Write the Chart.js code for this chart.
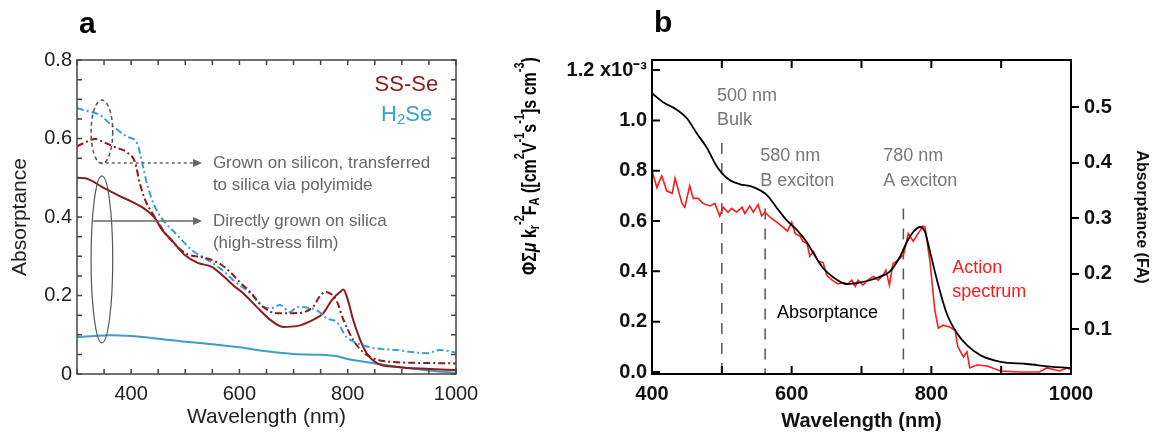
<!DOCTYPE html>
<html>
<head>
<meta charset="utf-8">
<title>Absorptance of films and action spectrum</title>
<script src="https://cdn.jsdelivr.net/npm/chart.js"></script>
<style>
  body { margin: 0; background: #fff; }
  #wrap { position: relative; width: 1156px; height: 436px; }
  #chartA { position: absolute; left: 0; top: 0; }
  #chartB { position: absolute; left: 490px; top: 0; }
</style>
</head>
<body>
<div id="wrap">
  <canvas id="chartA" width="490" height="436"></canvas>
  <canvas id="chartB" width="666" height="436"></canvas>
</div>
<script>
// ---------- panel a: absorptance ----------
// SS-Se, grown on silicon and transferred (dash-dot, dark red)
const ssTransWl = [300, 315, 333, 350, 370, 394, 407, 416, 426, 439, 450, 468, 500, 536, 561, 579, 600, 620, 644, 669, 699, 736, 747, 758, 770, 780, 791, 810, 828, 847, 878, 952, 1000];
const ssTrans   = [0.58, 0.59, 0.599, 0.59, 0.578, 0.563, 0.54, 0.486, 0.443, 0.41, 0.385, 0.35, 0.308, 0.296, 0.283, 0.265, 0.235, 0.209, 0.171, 0.155, 0.155, 0.171, 0.195, 0.209, 0.203, 0.185, 0.142, 0.087, 0.056, 0.04, 0.031, 0.028, 0.027];
// H2Se, grown on silicon and transferred (dash-dot, blue)
const h2TransWl = [300, 320, 342, 367, 394, 411, 420, 429, 444, 463, 481, 512, 542, 568, 592, 620, 644, 660, 675, 693, 708, 730, 743, 761, 780, 798, 817, 841, 890, 946, 970, 1000];
const h2Trans   = [0.677, 0.67, 0.66, 0.63, 0.604, 0.588, 0.54, 0.486, 0.426, 0.385, 0.36, 0.316, 0.29, 0.265, 0.235, 0.206, 0.171, 0.168, 0.176, 0.158, 0.171, 0.168, 0.163, 0.142, 0.132, 0.094, 0.079, 0.068, 0.061, 0.053, 0.061, 0.055];
// SS-Se, directly grown on silica (solid, dark red)
const ssDirWl = [300, 315, 346, 376, 400, 420, 444, 457, 475, 499, 523, 549, 568, 592, 607, 632, 657, 681, 706, 736, 755, 771, 786, 792, 800, 810, 823, 835, 854, 891, 952, 1000];
const ssDir   = [0.50, 0.499, 0.477, 0.455, 0.44, 0.425, 0.397, 0.367, 0.341, 0.303, 0.283, 0.273, 0.252, 0.222, 0.206, 0.171, 0.138, 0.12, 0.122, 0.138, 0.155, 0.189, 0.209, 0.215, 0.19, 0.138, 0.087, 0.053, 0.028, 0.018, 0.013, 0.01];
// H2Se, directly grown on silica (solid, blue)
const h2DirWl = [300, 330, 360, 400, 450, 500, 550, 600, 650, 700, 750, 780, 800, 850, 900, 950, 1000];
const h2Dir   = [0.094, 0.097, 0.099, 0.097, 0.09, 0.082, 0.076, 0.068, 0.058, 0.051, 0.049, 0.045, 0.038, 0.027, 0.017, 0.009, 0.003];

const aXTicks = [300, 350, 400, 450, 500, 550, 600, 650, 700, 750, 800, 850, 900, 950, 1000];
const aXLabeled = [400, 600, 800, 1000];
const aYTicks = [0, 0.05, 0.1, 0.15, 0.2, 0.25, 0.3, 0.35, 0.4, 0.45, 0.5, 0.55, 0.6, 0.65, 0.7, 0.75, 0.8];
const aYLabelVals = [0, 0.2, 0.4, 0.6, 0.8];
const aYLabelText = ['0', '0.2', '0.4', '0.6', '0.8'];

// ---------- panel b: action spectrum vs absorptance ----------
// action spectrum, left axis (x10^-3)
const actWl = [400, 407, 414, 421, 429, 433, 443, 447, 454, 459, 466, 473, 483, 490, 497, 502, 509, 514, 521, 529, 533, 540, 545, 552, 557, 562, 569, 579, 588, 594, 600, 605, 612, 616, 622, 626, 631, 638, 645, 650, 658, 666, 674, 681, 686, 691, 695, 702, 709, 717, 724, 731, 735, 740, 745, 752, 760, 767, 774, 781, 788, 791, 798, 805, 810, 817, 827, 834, 838, 846, 851, 855, 865, 880, 899, 927, 955, 965, 984, 994, 1000];
const act   = [0.80, 0.733, 0.78, 0.72, 0.71, 0.77, 0.67, 0.655, 0.74, 0.69, 0.69, 0.67, 0.66, 0.67, 0.62, 0.655, 0.635, 0.65, 0.635, 0.655, 0.63, 0.66, 0.635, 0.665, 0.62, 0.635, 0.615, 0.595, 0.575, 0.56, 0.595, 0.55, 0.54, 0.52, 0.51, 0.46, 0.48, 0.44, 0.435, 0.385, 0.365, 0.35, 0.355, 0.35, 0.365, 0.34, 0.365, 0.345, 0.365, 0.38, 0.365, 0.385, 0.405, 0.345, 0.43, 0.445, 0.465, 0.55, 0.52, 0.55, 0.58, 0.575, 0.44, 0.245, 0.174, 0.186, 0.178, 0.166, 0.1, 0.06, 0.08, 0.016, 0.028, 0.024, 0.004, 0, 0, 0.016, 0.004, 0.016, 0.01];
// absorptance FA, right axis
const absWl = [400, 416, 436, 450, 464, 479, 490, 500, 512, 526, 540, 555, 565, 579, 593, 608, 622, 631, 645, 659, 679, 693, 712, 726, 740, 755, 765, 774, 784, 791, 798, 810, 822, 837, 851, 870, 899, 937, 974, 1000];
const absFA = [0.525, 0.509, 0.495, 0.48, 0.453, 0.426, 0.399, 0.381, 0.368, 0.361, 0.358, 0.35, 0.341, 0.318, 0.296, 0.278, 0.256, 0.237, 0.21, 0.194, 0.181, 0.183, 0.188, 0.194, 0.203, 0.23, 0.257, 0.275, 0.284, 0.275, 0.24, 0.179, 0.128, 0.092, 0.071, 0.053, 0.041, 0.037, 0.032, 0.03];

const bXTicks = [400, 500, 600, 700, 800, 900, 1000];
const bXLabeled = [400, 600, 800, 1000];
const bYLTicks = [0, 0.2, 0.4, 0.6, 0.8, 1.0, 1.2];
const bYLText = ['0.0', '0.2', '0.4', '0.6', '0.8', '1.0', '1.2 x10\u207B\u00B3'];
const bYRTicks = [0.1, 0.2, 0.3, 0.4, 0.5];
const bYRText = ['0.1', '0.2', '0.3', '0.4', '0.5'];
// exciton / bulk markers (wavelength, top of dashed line on left axis)
const markerWl = [500, 562, 760];
const markerTop = [0.91, 0.65, 0.65];

const FONT = '"Liberation Sans", Arial, Helvetica, sans-serif';
Chart.defaults.font.family = FONT;
Chart.defaults.color = '#222';

const RED_A = '#8e1b1b';
const BLUE_A = '#3c9fcb';

const toXY = (xs, ys) => xs.map((x, i) => ({ x, y: ys[i] }));
const pick = (vals, text) => v => {
  const i = vals.findIndex(l => Math.abs(l - v) < 1e-9);
  return i >= 0 ? text[i] : '';
};

// frame around the plot area with tick marks on the chosen sides
const boxTicks = {
  id: 'boxTicks',
  afterDatasetsDraw(chart, args, o) {
    const { ctx, chartArea: { left, right, top, bottom } } = chart;
    const xs = chart.scales.x;
    ctx.save();
    ctx.strokeStyle = o.color;
    ctx.lineWidth = o.width;
    ctx.beginPath();
    xs.ticks.forEach(t => {
      const p = xs.getPixelForValue(t.value);
      ctx.moveTo(p, bottom); ctx.lineTo(p, bottom - o.len);
      ctx.moveTo(p, top); ctx.lineTo(p, top + o.len);
    });
    const yl = chart.scales[o.left];
    yl.ticks.forEach(t => {
      const p = yl.getPixelForValue(t.value);
      ctx.moveTo(left, p); ctx.lineTo(left + o.len, p);
      if (o.mirrorRight) { ctx.moveTo(right, p); ctx.lineTo(right - o.len, p); }
    });
    ctx.stroke();
    ctx.strokeRect(left, top, right - left, bottom - top);
    ctx.restore();
  }
};

function drawRich(ctx, parts, x, y) {
  parts.forEach(p => {
    ctx.font = p[1];
    ctx.fillText(p[0], x, y + (p[2] || 0));
    x += ctx.measureText(p[0]).width;
  });
}
function richWidth(ctx, parts) {
  let w = 0;
  parts.forEach(p => { ctx.font = p[1]; w += ctx.measureText(p[0]).width; });
  return w;
}
function arrow(ctx, x0, x1, y, dash) {
  ctx.setLineDash(dash);
  ctx.beginPath(); ctx.moveTo(x0, y); ctx.lineTo(x1 - 7, y); ctx.stroke();
  ctx.setLineDash([]);
  ctx.beginPath(); ctx.moveTo(x1, y); ctx.lineTo(x1 - 9, y - 4); ctx.lineTo(x1 - 9, y + 4); ctx.closePath(); ctx.fill();
}

// panel a: letter, legend text, ellipses and arrows
const notesA = {
  id: 'notesA',
  afterDatasetsDraw(chart) {
    const { ctx } = chart;
    const X = v => chart.scales.x.getPixelForValue(v);
    const Y = v => chart.scales.y.getPixelForValue(v);
    ctx.save();
    ctx.strokeStyle = '#555';
    ctx.fillStyle = '#666';
    ctx.lineWidth = 1.5;
    ctx.setLineDash([4, 3]);
    ctx.beginPath();
    ctx.ellipse(X(346), Y(0.617), X(366) - X(346), Y(0.617) - Y(0.698), 0, 0, 2 * Math.PI);
    ctx.stroke();
    ctx.setLineDash([]);
    ctx.lineWidth = 1.2;
    ctx.beginPath();
    ctx.ellipse(X(346), Y(0.292), X(366) - X(346), Y(0.292) - Y(0.505), 0, 0, 2 * Math.PI);
    ctx.stroke();

    ctx.strokeStyle = '#666';
    ctx.lineWidth = 1.5;
    arrow(ctx, X(342), X(531), Y(0.5376), [3, 3]);
    arrow(ctx, X(330), X(531), Y(0.39), []);

    ctx.textBaseline = 'middle';
    ctx.textAlign = 'left';
    ctx.font = '17px ' + FONT;
    ctx.fillStyle = '#666';
    ctx.fillText('Grown on silicon, transferred', X(551), Y(0.5376));
    ctx.fillText('to silica via polyimide', X(551), Y(0.4815));
    ctx.fillText('Directly grown on silica', X(551), Y(0.39));
    ctx.fillText('(high-stress film)', X(551), Y(0.334));

    ctx.font = '22px ' + FONT;
    ctx.textAlign = 'right';
    ctx.fillStyle = RED_A;
    ctx.fillText('SS-Se', X(967), Y(0.736));
    ctx.textAlign = 'left';
    ctx.fillStyle = BLUE_A;
    const h2 = [['H', '22px ' + FONT], ['2', '15px ' + FONT, 5], ['Se', '22px ' + FONT]];
    drawRich(ctx, h2, X(956) - richWidth(ctx, h2), Y(0.659));

    ctx.fillStyle = '#000';
    ctx.font = 'bold 30px ' + FONT;
    ctx.textBaseline = 'alphabetic';
    ctx.fillText('a', 79, 33);
    ctx.restore();
  }
};

// panel b: markers, labels, left axis title with sub/superscripts
const notesB = {
  id: 'notesB',
  beforeDatasetsDraw(chart) {
    const { ctx, chartArea } = chart;
    const X = v => chart.scales.x.getPixelForValue(v);
    const Y = v => chart.scales.yL.getPixelForValue(v);
    ctx.save();
    ctx.strokeStyle = '#555';
    ctx.lineWidth = 1.5;
    ctx.setLineDash([11, 9]);
    markerWl.forEach((w, i) => {
      ctx.beginPath();
      ctx.moveTo(X(w), Y(markerTop[i]));
      ctx.lineTo(X(w), chartArea.bottom);
      ctx.stroke();
    });
    ctx.restore();
  },
  afterDatasetsDraw(chart) {
    const { ctx } = chart;
    const X = v => chart.scales.x.getPixelForValue(v);
    const Y = v => chart.scales.yL.getPixelForValue(v);
    ctx.save();
    ctx.textBaseline = 'middle';
    ctx.textAlign = 'left';
    ctx.font = '18px ' + FONT;
    ctx.fillStyle = '#777';
    ctx.fillText('500 nm', X(493), Y(1.097));
    ctx.fillText('Bulk', X(493), Y(1.002));
    ctx.fillText('580 nm', X(555), Y(0.859));
    ctx.fillText('B exciton', X(555), Y(0.760));
    ctx.fillText('780 nm', X(731), Y(0.859));
    ctx.fillText('A exciton', X(731), Y(0.760));
    ctx.fillStyle = '#000';
    ctx.fillText('Absorptance', X(579), Y(0.234));
    ctx.fillStyle = '#ff1a1a';
    ctx.fillText('Action', X(830), Y(0.412));
    ctx.fillText('spectrum', X(830), Y(0.317));

    ctx.fillStyle = '#000';
    ctx.font = 'bold 30px ' + FONT;
    ctx.textBaseline = 'alphabetic';
    ctx.fillText('b', 164, 32);

    // left axis title
    const M = 'bold 16px ' + FONT, S = 'bold 11px ' + FONT;
    const parts = [['\u03A6\u03A3', M], ['\u03BC', 'italic ' + M], [' k', M], ['r', S, 2], ['-2', S, -9],
      ['F', M], ['A', S, 2], [' ([cm', M], ['2', S, -9], ['V', M], ['-1', S, -9], ['s', M], ['-1', S, -9],
      [']s cm', M], ['-3', S, -9], [')', M]];
    const w = richWidth(ctx, parts);
    ctx.translate(46, 166);
    ctx.scale(1.3, 1);
    ctx.rotate(-Math.PI / 2);
    drawRich(ctx, parts, -w / 2, 0);
    ctx.restore();
  }
};

new Chart(document.getElementById('chartA'), {
  type: 'line',
  data: {
    datasets: [
      { label: 'SS-Se (transferred)', data: toXY(ssTransWl, ssTrans), borderColor: RED_A, borderWidth: 2, borderDash: [7, 3, 2, 3] },
      { label: 'H2Se (transferred)', data: toXY(h2TransWl, h2Trans), borderColor: BLUE_A, borderWidth: 2, borderDash: [7, 3, 2, 3] },
      { label: 'SS-Se (direct)', data: toXY(ssDirWl, ssDir), borderColor: RED_A, borderWidth: 2 },
      { label: 'H2Se (direct)', data: toXY(h2DirWl, h2Dir), borderColor: BLUE_A, borderWidth: 2 }
    ]
  },
  options: {
    responsive: false,
    animation: false,
    layout: { padding: { top: 60, right: 34, left: 0, bottom: 0 } },
    elements: { point: { radius: 0 }, line: { cubicInterpolationMode: 'monotone' } },
    plugins: {
      legend: { display: false },
      tooltip: { enabled: false },
      boxTicks: { color: '#444', width: 1.5, len: 5, left: 'y', mirrorRight: true }
    },
    scales: {
      x: {
        type: 'linear', min: 300, max: 1000,
        afterFit: s => { s.height = 62; },
        afterBuildTicks: s => { s.ticks = aXTicks.map(v => ({ value: v })); },
        grid: { display: false, drawTicks: false },
        border: { display: false },
        ticks: { autoSkip: false, maxRotation: 0, padding: 8, color: '#222', font: { size: 20 },
          callback: v => aXLabeled.includes(v) ? String(v) : '' },
        title: { display: true, text: 'Wavelength (nm)', color: '#222', font: { size: 21 }, padding: { top: 0, bottom: 6 } }
      },
      y: {
        min: 0, max: 0.8,
        afterFit: s => { s.width = 77; },
        afterBuildTicks: s => { s.ticks = aYTicks.map(v => ({ value: v })); },
        grid: { display: false, drawTicks: false },
        border: { display: false },
        ticks: { autoSkip: false, padding: 5, color: '#222', font: { size: 20 }, callback: pick(aYLabelVals, aYLabelText) },
        title: { display: true, text: 'Absorptance', color: '#222', font: { size: 21 }, padding: { top: 8, bottom: 0 } }
      }
    }
  },
  plugins: [boxTicks, notesA]
});

new Chart(document.getElementById('chartB'), {
  type: 'line',
  data: {
    datasets: [
      { label: 'Absorptance', data: toXY(absWl, absFA), yAxisID: 'yR', borderColor: '#000', borderWidth: 1.8,
        cubicInterpolationMode: 'monotone' },
      { label: 'Action spectrum', data: toXY(actWl, act), yAxisID: 'yL', borderColor: '#ff1a1a', borderWidth: 1.6, tension: 0 }
    ]
  },
  options: {
    responsive: false,
    animation: false,
    layout: { padding: { top: 60, right: 0, left: 0, bottom: 0 } },
    elements: { point: { radius: 0 } },
    plugins: {
      legend: { display: false },
      tooltip: { enabled: false },
      boxTicks: { color: '#000', width: 2, len: 8, left: 'yL', mirrorRight: false }
    },
    scales: {
      x: {
        type: 'linear', min: 400, max: 1000,
        afterFit: s => { s.height = 62; },
        afterBuildTicks: s => { s.ticks = bXTicks.map(v => ({ value: v })); },
        grid: { display: false, drawTicks: false },
        border: { display: false },
        ticks: { autoSkip: false, maxRotation: 0, padding: 8, color: '#111', font: { size: 20, weight: 'bold' },
          callback: v => bXLabeled.includes(v) ? String(v) : '' },
        title: { display: true, text: 'Wavelength (nm)', color: '#111', font: { size: 20, weight: 'bold' }, padding: { top: 0, bottom: 3 } }
      },
      yL: {
        position: 'left', min: -0.008, max: 1.24,
        afterFit: s => { s.width = 162; },
        afterBuildTicks: s => { s.ticks = bYLTicks.map(v => ({ value: v })); },
        grid: { display: false, drawTicks: false },
        border: { display: false },
        ticks: { autoSkip: false, padding: 5, color: '#111', font: { size: 20, weight: 'bold' }, callback: pick(bYLTicks, bYLText) }
      },
      yR: {
        position: 'right', min: 0.019, max: 0.585,
        afterFit: s => { s.width = 85; },
        afterBuildTicks: s => { s.ticks = bYRTicks.map(v => ({ value: v })); },
        grid: { display: true, drawOnChartArea: false, drawTicks: true, tickLength: 8, color: '#000', lineWidth: 2 },
        border: { display: false },
        ticks: { autoSkip: false, padding: 5, color: '#111', font: { size: 20, weight: 'bold' }, callback: pick(bYRTicks, bYRText) },
        title: { display: true, text: 'Absorptance (FA)', color: '#111', font: { size: 16, weight: 'bold' }, padding: { top: 5, bottom: 0 } }
      }
    }
  },
  plugins: [boxTicks, notesB]
});
</script>
</body>
</html>
